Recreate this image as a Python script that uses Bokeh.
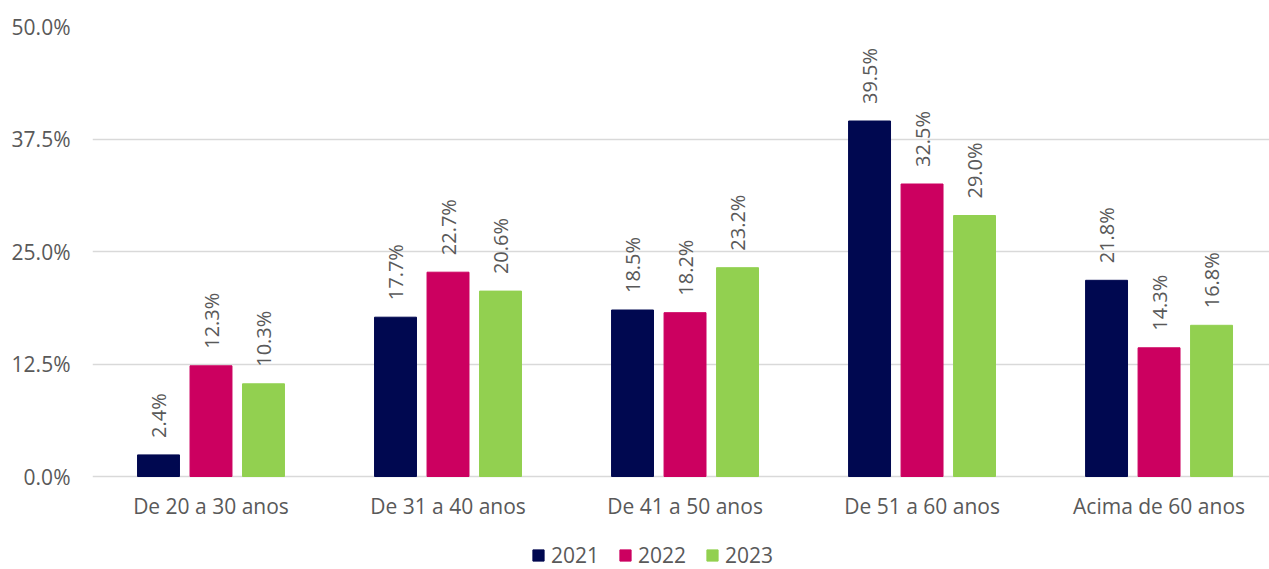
from bokeh.plotting import figure
from bokeh.models import ColumnDataSource, Range1d, FixedTicker, PrintfTickFormatter, Legend, LegendItem, LabelSet
from bokeh.core.properties import value
from bokeh.embed import file_html
from bokeh.resources import INLINE

categories = ["De 20 a 30 anos", "De 31 a 40 anos", "De 41 a 50 anos", "De 51 a 60 anos", "Acima de 60 anos"]
years = ["2021", "2022", "2023"]
v2021 = [2.4, 17.7, 18.5, 39.5, 21.8]
v2022 = [12.3, 22.7, 18.2, 32.5, 14.3]
v2023 = [10.3, 20.6, 23.2, 29.0, 16.8]
y_ticks = [0, 12.5, 25, 37.5, 50]
colors = ["#000850", "#CC0060", "#92D050"]

FONT = "Open Sans"
TXT = "#595959"

# frame runs to the bottom of the canvas so the legend below the bars is not clipped
p = figure(width=1269, height=569, output_backend="svg", toolbar_location=None,
           x_range=Range1d(0, 4.966), y_range=Range1d(-10.333, 50),
           x_axis_location=None,
           min_border_left=92, min_border_right=0, min_border_top=26, min_border_bottom=0)
p.outline_line_color = None
p.xgrid.grid_line_color = None
p.ygrid.grid_line_color = "#D9D9D9"
p.ygrid.grid_line_width = 1.5
p.yaxis.ticker = FixedTicker(ticks=y_ticks)
p.yaxis.formatter = PrintfTickFormatter(format="%.1f%%")
p.yaxis.axis_line_color = None
p.yaxis.major_tick_line_color = None
p.yaxis.minor_tick_line_color = None
p.yaxis.major_tick_out = 0
p.yaxis.major_label_text_font = FONT
p.yaxis.major_label_text_font_size = "21px"
p.yaxis.major_label_text_color = TXT
p.yaxis.major_label_standoff = 22

cat_src = ColumnDataSource(dict(x=[i + 0.5 for i in range(len(categories))],
                                y=[0] * len(categories), lab=categories))
p.add_layout(LabelSet(x="x", y="y", text="lab", source=cat_src, y_offset=-29,
                      text_align="center", text_baseline="middle",
                      text_font=value(FONT), text_font_size="21px", text_color=TXT))

offsets = [-0.2215, 0.0, 0.2215]
items = []
for k, (yr, vals) in enumerate(zip(years, [v2021, v2022, v2023])):
    xs = [i + 0.5 + offsets[k] for i in range(len(categories))]
    src = ColumnDataSource(dict(x=xs, top=vals, lab=["%.1f%%" % v for v in vals]))
    r = p.vbar(x="x", top="top", bottom=0, width=0.177, source=src,
               fill_color=colors[k], line_color=colors[k])
    items.append(LegendItem(label=yr, renderers=[r]))
    p.add_layout(LabelSet(x="x", y="top", text="lab", source=src, angle=1.5708,
                          text_align="left", text_baseline="middle", y_offset=17,
                          text_font=value(FONT), text_font_size="20px", text_color=TXT))

legend = Legend(items=items, orientation="horizontal", location=(439, 0),
                label_text_font=FONT, label_text_font_size="21px", label_text_color=TXT,
                glyph_width=14, glyph_height=14, spacing=19, label_standoff=6,
                border_line_color=None, background_fill_alpha=0, margin=0, padding=0)
p.add_layout(legend, "center")

open("out.html", "w").write(file_html(p, INLINE))
